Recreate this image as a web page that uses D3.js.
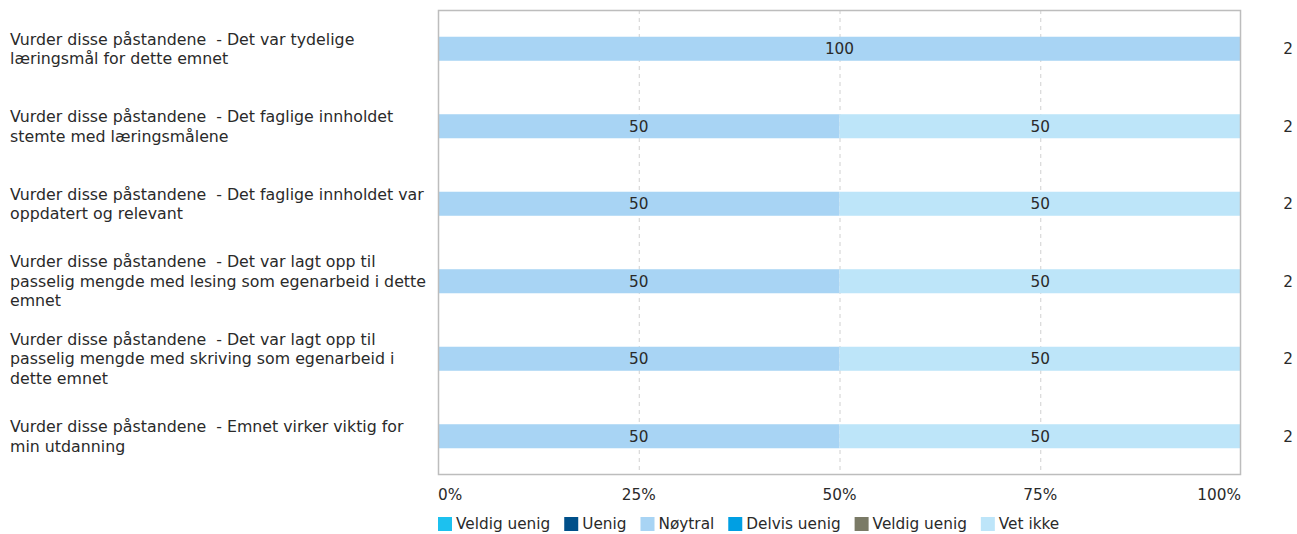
<!DOCTYPE html>
<html><head><meta charset="utf-8">
<script src="https://cdn.jsdelivr.net/npm/d3@7"></script>
<style>body{margin:0;background:#fff;}svg text{font-family:"DejaVu Sans",Verdana,sans-serif;white-space:pre;}</style>
</head><body>
<svg id="c" width="1297" height="534"></svg>
<script>
const categories = [
  ["Vurder disse påstandene  - Det var tydelige", "læringsmål for dette emnet"],
  ["Vurder disse påstandene  - Det faglige innholdet", "stemte med læringsmålene"],
  ["Vurder disse påstandene  - Det faglige innholdet var", "oppdatert og relevant"],
  ["Vurder disse påstandene  - Det var lagt opp til", "passelig mengde med lesing som egenarbeid i dette", "emnet"],
  ["Vurder disse påstandene  - Det var lagt opp til", "passelig mengde med skriving som egenarbeid i", "dette emnet"],
  ["Vurder disse påstandene  - Emnet virker viktig for", "min utdanning"]
];
const seriesNames = ["Veldig uenig", "Uenig", "Nøytral", "Delvis uenig", "Veldig uenig", "Vet ikke"];
const seriesColors = ["#1cc1ef", "#00508a", "#a8d4f4", "#009fe3", "#7a7a66", "#bde5f9"];
const veldigUenig = [0, 0, 0, 0, 0, 0];
const uenig = [0, 0, 0, 0, 0, 0];
const noytral = [100, 50, 50, 50, 50, 50];
const delvisUenig = [0, 0, 0, 0, 0, 0];
const veldigUenig2 = [0, 0, 0, 0, 0, 0];
const vetIkke = [0, 50, 50, 50, 50, 50];
const counts = [2, 2, 2, 2, 2, 2];
const tickValues = [0, 25, 50, 75, 100];
const tickLabels = ["0%", "25%", "50%", "75%", "100%"];

const FS = 15.3;
const LFS = 15.8;
const TXT = "#2a2a2a";
const seriesValues = [veldigUenig, uenig, noytral, delvisUenig, veldigUenig2, vetIkke];
const svg = d3.select("#c");
const L = 438, R = 1241, T = 10, B = 475;
const x = d3.scaleLinear().domain([0, 100]).range([L, R]);
const y = d3.scaleBand().domain(d3.range(categories.length)).range([T, B]).paddingInner(0.69).paddingOuter(0.345);

// grid
svg.append("g").selectAll("line").data(tickValues.filter(v => v > 0 && v < 100)).join("line")
  .attr("x1", d => x(d) + 0.5).attr("x2", d => x(d) + 0.5).attr("y1", T).attr("y2", B)
  .attr("stroke", "#d0d0d0").attr("stroke-dasharray", "4,4");

// bars
const rows = categories.map((c, i) => {
  let acc = 0;
  return seriesValues.map((s, k) => { const v = s[i]; const seg = {i, k, x0: acc, x1: acc + v, v}; acc += v; return seg; }).filter(d => d.v > 0);
}).flat();
svg.append("g").selectAll("rect").data(rows).join("rect")
  .attr("x", d => x(d.x0)).attr("width", d => x(d.x1) - x(d.x0))
  .attr("y", d => y(d.i)).attr("height", y.bandwidth())
  .attr("fill", d => seriesColors[d.k]);
svg.append("g").selectAll("text").data(rows).join("text")
  .attr("x", d => x((d.x0 + d.x1) / 2)).attr("y", d => y(d.i) + y.bandwidth() / 2)
  .attr("dy", "0.35em").attr("text-anchor", "middle").attr("font-size", FS).attr("fill", TXT)
  .text(d => d.v);

// frame
svg.append("rect").attr("x", L + 0.5).attr("y", T + 0.5).attr("width", R - L - 1).attr("height", B - T - 1)
  .attr("fill", "none").attr("stroke", "#bdbdbd").attr("stroke-width", 1.5);

// category labels
const lh = 19.5;
const lab = svg.append("g").selectAll("text").data(categories).join("text")
  .attr("font-size", LFS).attr("fill", TXT);
lab.each(function(lines, i) {
  const cy = y(i) + y.bandwidth() / 2;
  const start = cy - (lines.length - 1) * lh / 2;
  d3.select(this).selectAll("tspan").data(lines).join("tspan")
    .attr("x", 10).attr("y", (d, j) => start + j * lh).attr("dy", "0.35em").text(d => d);
});

// counts
svg.append("g").selectAll("text").data(counts).join("text")
  .attr("x", 1288).attr("y", (d, i) => y(i) + y.bandwidth() / 2).attr("dy", "0.35em")
  .attr("text-anchor", "middle").attr("font-size", FS).attr("fill", TXT).text(d => d);

// x axis labels
svg.append("g").selectAll("text").data(tickValues).join("text")
  .attr("x", d => x(d)).attr("y", 495).attr("dy", "0.35em")
  .attr("text-anchor", (d, i) => i === 0 ? "start" : (i === tickValues.length - 1 ? "end" : "middle"))
  .attr("font-size", FS).attr("fill", TXT).text((d, i) => tickLabels[i]);

// legend
const lg = svg.append("g");
let lx = L;
seriesNames.forEach((n, k) => {
  lg.append("rect").attr("x", lx).attr("y", 517).attr("width", 14).attr("height", 14).attr("fill", seriesColors[k]);
  const t = lg.append("text").attr("x", lx + 18).attr("y", 524).attr("dy", "0.35em").attr("font-size", FS).attr("fill", TXT).text(n);
  lx += 18 + t.node().getComputedTextLength() + 14;
});
</script>
</body></html>
